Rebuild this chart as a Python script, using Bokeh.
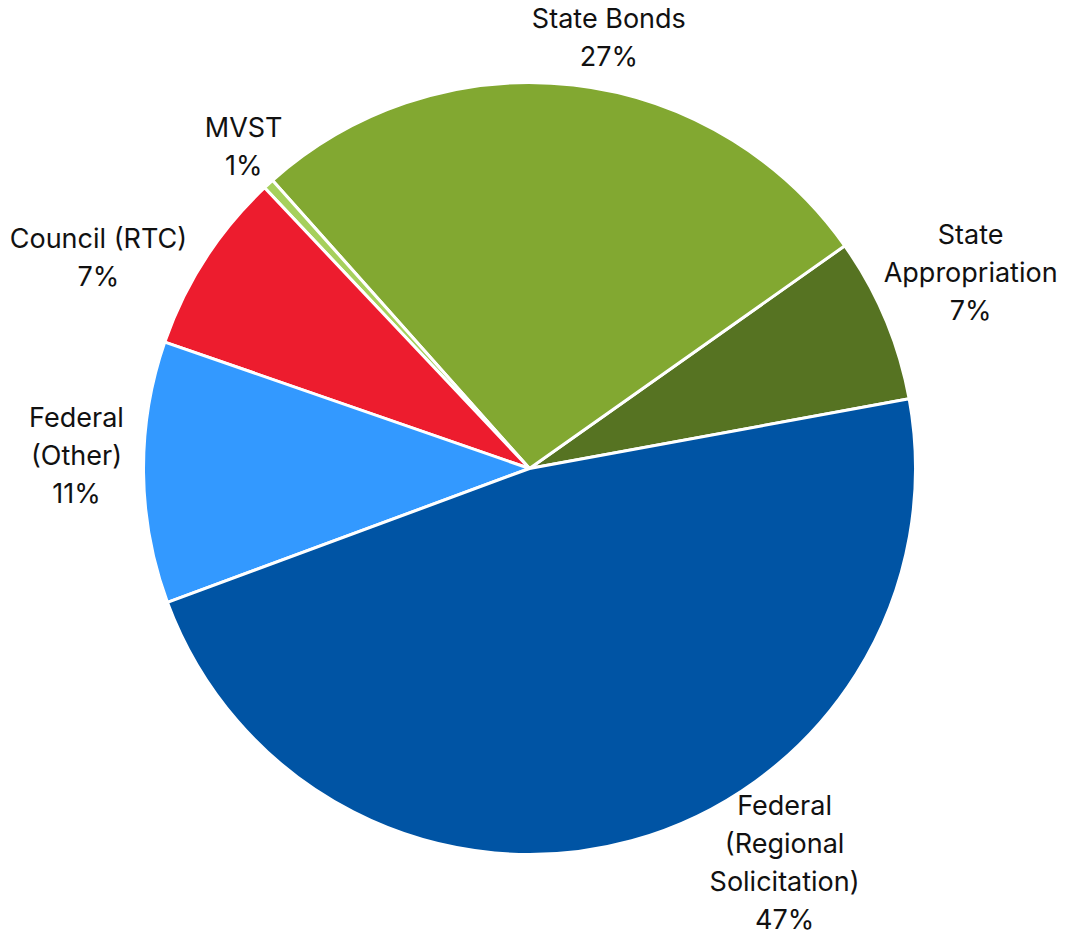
import math
from bokeh.plotting import figure
from bokeh.models import Range1d
from bokeh.core.properties import value
from bokeh.embed import file_html
from bokeh.resources import INLINE

# Data (counter-clockwise order, starting at State Appropriation)
categories = ["State\nAppropriation", "State Bonds", "MVST", "Council (RTC)",
              "Federal\n(Other)", "Federal\n(Regional\nSolicitation)"]
shares = [6.9, 26.8, 0.45, 7.65, 10.95, 47.25]
pct_labels = ["7%", "27%", "1%", "7%", "11%", "47%"]
colors = ["#567322", "#82A831", "#A6D05C", "#ED1C2E", "#3399FF", "#0054A4"]

# Layout
W, H = 1076, 937
CX, CY, R = 529, 469, 386
START_DEG = 10.4
FONT = "Inter"
FS = 27
LINE = 38
# label placement: (angle offset deg from slice mid, distance from centre)
label_layout = [(1.1, 482.6), (-3.9, 438.7), (-0.9, 430.3), (6.8, 480.0),
                (-2.2, 453.2), (17.6, 469.0)]

p = figure(width=W, height=H, x_range=Range1d(0, W), y_range=Range1d(0, H),
           output_backend="svg", toolbar_location=None, min_border=0)
p.axis.visible = False
p.grid.visible = False
p.outline_line_color = None
p.background_fill_color = "white"

total = sum(shares)
starts, ends, mids = [], [], []
a = math.radians(START_DEG)
for s in shares:
    d = s / total * 2 * math.pi
    starts.append(a)
    ends.append(a + d)
    mids.append(a + d / 2)
    a += d

p.wedge(x=[CX] * len(shares), y=[CY] * len(shares), radius=R,
        start_angle=starts, end_angle=ends, fill_color=colors,
        line_color="white", line_width=3)

xs, ys, ts = [], [], []
for cat, pct, m, (off, dist) in zip(categories, pct_labels, mids, label_layout):
    ang = m + math.radians(off)
    lx = CX + dist * math.cos(ang)
    ly = CY + dist * math.sin(ang)
    lines = cat.split("\n") + [pct]
    n = len(lines)
    for i, t in enumerate(lines):
        xs.append(lx)
        ys.append(ly + (n - 1) / 2 * LINE - i * LINE)
        ts.append(t)

p.text(x=xs, y=ys, text=ts, text_align="center", text_baseline="middle",
       text_font=value(FONT), text_font_size=f"{FS}px", text_color="#111111")

open("out.html", "w").write(file_html(p, INLINE))
